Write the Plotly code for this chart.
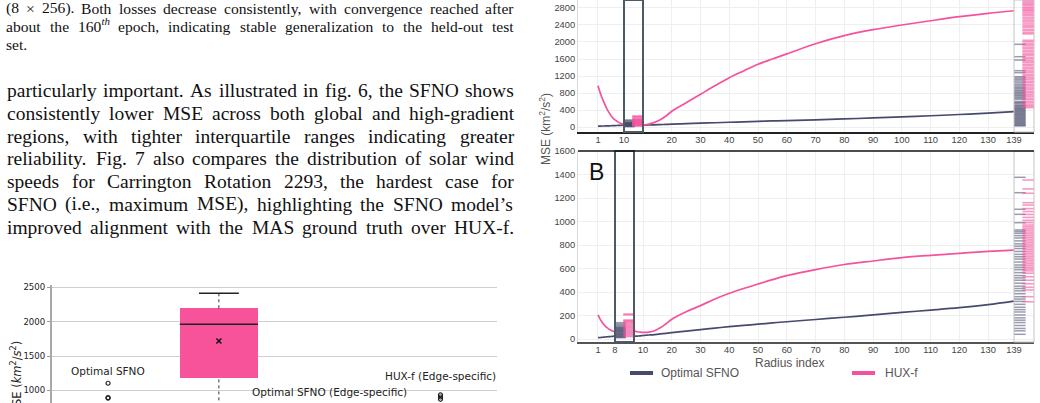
import plotly.graph_objects as go

W, H = 1040, 403

# ---------------- text content ----------------
caption_lines = [
    "(8 × 256). Both losses decrease consistently, with convergence reached after",
    "about the 160^th epoch, indicating stable generalization to the held-out test",
    "set.",
]
body_lines = [
    "particularly important. As illustrated in fig. 6, the SFNO shows",
    "consistently lower MSE across both global and high-gradient",
    "regions, with tighter interquartile ranges indicating greater",
    "reliability. Fig. 7 also compares the distribution of solar wind",
    "speeds for Carrington Rotation 2293, the hardest case for",
    "SFNO (i.e., maximum MSE), highlighting the SFNO model’s",
    "improved alignment with the MAS ground truth over HUX-f.",
]

# ---------------- box plot (bottom left) ----------------
box_categories = ["Optimal SFNO", "HUX-f", "Optimal SFNO (Edge-specific)", "HUX-f (Edge-specific)"]
box_label_y = [1288, 2596, 974, 1215]
hux_q1, hux_median, hux_q3, hux_mean = 1177, 1962, 2195, 1720
hux_whisker_hi, hux_whisker_lo = 2413, 420
sfno_outliers = [1105, 896, 889]
hux_edge_outliers = [935, 905, 872]
box_ticks = [1000, 1500, 2000, 2500]

# ---------------- MSE vs radius index (right) ----------------
radius_idx = [1, 2, 3, 4, 5, 6, 7, 8, 9, 10, 11, 12, 14, 16, 18, 20, 25, 30, 35, 40,
              45, 50, 55, 60, 70, 80, 90, 100, 110, 120, 130, 139]
top_sfno = [20, 22, 24, 26, 28, 31, 34, 37, 40, 43, 45, 47, 51, 56, 61, 66, 78, 90, 100, 112,
            122, 133, 142, 151, 170, 190, 214, 240, 265, 294, 328, 362]
top_hux = [970, 760, 590, 440, 320, 225, 160, 115, 80, 55, 50, 68, 110, 170, 260, 370, 570, 770, 970, 1160,
           1320, 1475, 1600, 1720, 1960, 2150, 2290, 2400, 2500, 2595, 2675, 2735]
bot_sfno = [11, 13, 15, 17, 19, 21, 23, 25, 27, 30, 32, 34, 38, 43, 48, 54, 67, 80, 93, 105,
            116, 126, 137, 147, 166, 185, 205, 226, 246, 267, 293, 323]
bot_hux = [205, 165, 135, 110, 92, 78, 68, 62, 59, 57, 57, 59, 70, 95, 130, 168, 232, 284, 340, 389,
           430, 468, 505, 539, 591, 634, 664, 692, 712, 729, 745, 757]

top_ticks_a = [1, 10]
top_ticks_b = [20, 30, 40, 50, 60, 70, 80, 90, 100, 110, 120, 130, 139]
bot_ticks_a = [1, 8]
bot_ticks_b = [10, 20, 30, 40, 50, 60, 70, 80, 90, 100, 110, 120, 130, 139]

# per-sample MSE at the highlighted radius (box) and at the outer radius 139 (strip)
top_box_sfno = [165, 150, 125, 110, 100, 95, 88, 80, 75, 70, 62, 55, 50, 45, 40, 35, 30, 25, 20, 15, 10]
top_box_hux = [260, 245, 230, 200, 185, 175, 160, 150, 140, 130, 120, 110, 100, 90, 80, 70, 60, 50, 40, 30, 25]
bot_box_sfno = [139, 128, 118, 108, 100, 95, 90, 85, 80, 75, 70, 65, 60, 55, 50, 45, 40, 35, 30, 25, 20, 15, 11]
bot_box_hux = [213, 205, 162, 155, 148, 140, 130, 120, 110, 100, 90, 80, 70, 60, 50, 40, 30, 20]
top_strip_sfno = [1946, 1654, 1576, 1325, 1278, 1184, 1150, 1115, 1080, 1040, 1000, 965, 930, 905, 870, 845,
                  815, 790, 760, 735, 705, 680, 650, 600, 575, 560, 525, 500, 485, 455, 440, 420, 400, 380,
                  360, 340, 318, 300, 280, 262, 240, 220, 200, 180, 160, 140, 120, 100, 80, 60, 40, 25]
top_strip_hux = [2985, 2955, 2920, 2890, 2860, 2820, 2790, 2760, 2735, 2700, 2660, 2630, 2585, 2545, 2505,
                 2470, 2425, 2380, 2350, 2300, 2265, 2220, 2190, 2040, 2005, 1960, 1925, 1880, 1845, 1800,
                 1765, 1720, 1690, 1640, 1605, 1560, 1525, 1480, 1445, 1400, 1365, 1320, 1285, 1240, 1205,
                 1160, 1125, 1080, 1045, 1000, 965, 920, 885, 840, 805, 760, 725, 680, 645, 600, 565, 520,
                 490, 455]
bot_strip_sfno = [1376, 1245, 1104, 1061, 990, 928, 915, 900, 880, 860, 835, 810, 790, 770, 745, 720, 700,
                  680, 655, 630, 610, 590, 565, 540, 520, 500, 475, 450, 430, 410, 385, 360, 340, 320, 295,
                  270, 250, 230, 205, 180, 160, 140, 115, 90, 70, 40]
bot_strip_hux = [1353, 1277, 1240, 1160, 1140, 1110, 1085, 1060, 1035, 1010, 990, 970, 955, 940, 925, 910,
                 895, 880, 865, 850, 835, 820, 805, 790, 775, 760, 745, 730, 715, 700, 685, 670, 655, 640,
                 625, 610, 595, 580, 560, 530, 500, 470, 440, 417, 360, 317]

# ---------------- styles ----------------
DARK = "#474b6b"
PINK = "#f5529c"
SERIF = "Liberation Serif, Times New Roman, serif"
SANS = "Liberation Sans, Arial, sans-serif"
DJV = "DejaVu Sans, sans-serif"


def X(p):
    return p / W


def Y(p):
    return 1 - p / H


TNR = {' ': 250, 'a': 444, 'b': 500, 'c': 444, 'd': 500, 'e': 444, 'f': 333, 'g': 500, 'h': 500, 'i': 278,
       'j': 278, 'k': 500, 'l': 278, 'm': 778, 'n': 500, 'o': 500, 'p': 500, 'q': 500, 'r': 333, 's': 389,
       't': 278, 'u': 500, 'v': 500, 'w': 722, 'x': 500, 'y': 500, 'z': 444,
       'A': 722, 'B': 667, 'C': 667, 'D': 722, 'E': 611, 'F': 556, 'G': 722, 'H': 722, 'I': 333, 'J': 389,
       'K': 722, 'L': 611, 'M': 889, 'N': 722, 'O': 722, 'P': 556, 'Q': 722, 'R': 667, 'S': 556, 'T': 611,
       'U': 722, 'V': 722, 'W': 944, 'X': 722, 'Y': 722, 'Z': 611,
       '.': 250, ',': 250, '(': 333, ')': 333, '-': 333, '’': 333, "'": 180, '×': 564, ':': 278, ';': 278}


def word_info(word, fs):
    if '^' in word:
        base, sup = word.split('^')
        w = sum(TNR.get(c, 500) for c in base) + 0.7 * sum(TNR.get(c, 500) for c in sup)
        return base + "<sup><i>" + sup + "</i></sup>", w * fs / 1000
    return word, sum(TNR.get(c, 500) for c in word) * fs / 1000


annotations = []


def add_text_lines(lines, fs, x0, x1, baselines, justify_last):
    for k, (line, base) in enumerate(zip(lines, baselines)):
        words = line.split(' ')
        infos = [word_info(w, fs) for w in words]
        total = sum(w for _, w in infos)
        justified = (k < len(lines) - 1) or justify_last
        gap = (x1 - x0 - total) / (len(words) - 1) if (justified and len(words) > 1) else 0.25 * fs
        x = x0
        for html, w in infos:
            annotations.append(dict(text=html, x=X(x), y=Y(base + 0.216 * fs), xref='paper', yref='paper',
                                    xanchor='left', yanchor='bottom', showarrow=False, borderpad=0,
                                    font=dict(family=SERIF, size=fs, color='#111')))
            x += w + gap


CAP_FS, BODY_FS = 15.6, 19.5
add_text_lines(caption_lines, CAP_FS, 5, 513, [15, 33, 50.5], False)
add_text_lines(body_lines, BODY_FS, 6, 513, [97.5 + 22.9 * i for i in range(7)], True)

fig = go.Figure()

# ---------- box plot traces ----------
fig.add_trace(go.Scatter(x=[1, 1], y=[hux_q3, hux_whisker_hi], mode='lines', xaxis='x', yaxis='y',
                         line=dict(color='#333', width=1, dash='dot'), hoverinfo='skip'))
fig.add_trace(go.Scatter(x=[1, 1], y=[hux_whisker_lo, hux_q1], mode='lines', xaxis='x', yaxis='y',
                         line=dict(color='#333', width=1, dash='dot'), hoverinfo='skip'))
fig.add_trace(go.Bar(x=[1], y=[hux_q3 - hux_q1], base=[hux_q1], width=[0.706], xaxis='x', yaxis='y',
                     marker=dict(color='#f7539b', line=dict(width=0))))
fig.add_trace(go.Scatter(x=[1 - 0.18, 1 + 0.18], y=[hux_whisker_hi, hux_whisker_hi], mode='lines',
                         xaxis='x', yaxis='y', line=dict(color='#222', width=1.3)))
fig.add_trace(go.Scatter(x=[1 - 0.353, 1 + 0.353], y=[hux_median, hux_median], mode='lines',
                         xaxis='x', yaxis='y', line=dict(color='#222', width=1.5)))
fig.add_trace(go.Scatter(x=[1], y=[hux_mean], mode='markers', xaxis='x', yaxis='y',
                         marker=dict(symbol='x-thin', size=5, line=dict(color='#111', width=1.5))))
fig.add_trace(go.Scatter(x=[0] * len(sfno_outliers) + [3] * len(hux_edge_outliers),
                         y=sfno_outliers + hux_edge_outliers, mode='markers', xaxis='x', yaxis='y',
                         marker=dict(symbol='circle-open', size=4, color='#222', line=dict(width=1.2))))
for i, (lab, ly) in enumerate(zip(box_categories, box_label_y)):
    annotations.append(dict(text=lab, x=i, y=ly, xref='x', yref='y', showarrow=False,
                            xanchor='center', yanchor='middle',
                            font=dict(family=DJV, size=10.5, color='#222')))
annotations.append(dict(text="MSE (<i>km</i><sup>2</sup>/<i>s</i><sup>2</sup>)", x=X(16), y=Y(379),
                        xref='paper', yref='paper', textangle=-90, showarrow=False,
                        xanchor='center', yanchor='middle',
                        font=dict(family=DJV, size=11.5, color='#222')))


# ---------- right panels ----------
def add_curves(xa_a, xa_b, ya, sfno, hux):
    for xa in (xa_a, xa_b):
        fig.add_trace(go.Scatter(x=radius_idx, y=sfno, mode='lines', xaxis=xa, yaxis=ya,
                                 line=dict(color=DARK, width=1.7, shape='spline')))
        fig.add_trace(go.Scatter(x=radius_idx, y=hux, mode='lines', xaxis=xa, yaxis=ya,
                                 line=dict(color=PINK, width=1.7, shape='spline')))


def add_rug(xa, ya, sfno_vals, hux_vals, size):
    fig.add_trace(go.Scatter(x=[0.5] * len(sfno_vals), y=sfno_vals, mode='markers', xaxis=xa, yaxis=ya,
                             marker=dict(symbol='line-ew', size=size,
                                         line=dict(color='rgba(71,75,107,0.55)', width=1.5))))
    fig.add_trace(go.Scatter(x=[1.5] * len(hux_vals), y=hux_vals, mode='markers', xaxis=xa, yaxis=ya,
                             marker=dict(symbol='line-ew', size=size,
                                         line=dict(color='rgba(245,82,156,0.6)', width=1.6))))


add_curves('x2', 'x4', 'y2', top_sfno, top_hux)
add_rug('x3', 'y2', top_box_sfno, top_box_hux, 8.5)
add_rug('x5', 'y2', top_strip_sfno, top_strip_hux, 9.5)
add_curves('x6', 'x8', 'y3', bot_sfno, bot_hux)
add_rug('x7', 'y3', bot_box_sfno, bot_box_hux, 8.5)
add_rug('x9', 'y3', bot_strip_sfno, bot_strip_hux, 9.5)

TICKF = dict(family=SANS, size=9.3, color='#444')
GRID = '#efefef'


def xseg(d0, d1, rng, anchor, ticks=None, linecolor='#222'):
    a = dict(domain=[X(d0), X(d1)], range=rng, anchor=anchor, zeroline=False, fixedrange=True,
             automargin=False, showline=True, linecolor=linecolor, linewidth=1.5, ticks='',
             tickfont=TICKF)
    if ticks:
        a.update(tickmode='array', tickvals=ticks, showgrid=True, gridcolor=GRID, gridwidth=1,
                 ticklabelstandoff=-2)
    else:
        a.update(showgrid=False, showticklabels=False)
    return a


layout = dict(
    width=W, height=H, autosize=False,
    margin=dict(l=0, r=0, t=0, b=0, pad=0, autoexpand=False),
    paper_bgcolor='white', plot_bgcolor='white',
    showlegend=False, bargap=0,
    xaxis=dict(domain=[X(52), X(497)], range=[-0.506, 3.51], anchor='y', showgrid=False,
               showticklabels=False, zeroline=False, showline=False, fixedrange=True, automargin=False),
    yaxis=dict(domain=[0, Y(285)], range=[818, 2533], anchor='x', tickmode='array', tickvals=box_ticks,
               showgrid=True, gridcolor='#cfcfcf', gridwidth=1, showline=True, linecolor='#a8a8a8',
               linewidth=2, ticks='outside', ticklen=3, tickcolor='#999', zeroline=False,
               tickfont=dict(family=DJV, size=8.6, color='#222'), fixedrange=True, automargin=False),
    # top panel
    xaxis2=xseg(578, 624, [-5.92, 10.02], 'y2', top_ticks_a),
    xaxis3=xseg(624, 643, [0, 2], 'y2'),
    xaxis4=xseg(643, 1014, [10, 139], 'y2', top_ticks_b),
    xaxis5=xseg(1014, 1034, [0, 2], 'y2'),
    yaxis2=dict(domain=[Y(132), 1], range=[-117.6, 2988], anchor='x2', dtick=400, tick0=0,
                showgrid=True, gridcolor=GRID, showline=True, linecolor='#d8d8d8', linewidth=1,
                zeroline=False, ticks='', tickfont=TICKF, fixedrange=True, automargin=False),
    # bottom panel
    xaxis6=xseg(578, 615, [-7.24, 8.02], 'y3', bot_ticks_a, '#555'),
    xaxis7=xseg(615, 634, [0, 2], 'y3', None, '#555'),
    xaxis8=xseg(634, 1014, [6.87, 139], 'y3', bot_ticks_b, '#555'),
    xaxis9=xseg(1014, 1034, [0, 2], 'y3', None, '#555'),
    yaxis3=dict(domain=[Y(342), Y(151)], range=[-25.5, 1600], anchor='x6', dtick=200, tick0=0,
                showgrid=True, gridcolor=GRID, showline=True, linecolor='#d8d8d8', linewidth=1,
                zeroline=False, ticks='', tickfont=TICKF, fixedrange=True, automargin=False),
)

shapes = [
    dict(type='rect', xref='x3 domain', yref='y2 domain', x0=0, x1=1, y0=0, y1=1,
         line=dict(color='#4b5b66', width=2)),
    dict(type='rect', xref='x7 domain', yref='y3 domain', x0=0, x1=1, y0=0, y1=1,
         line=dict(color='#4b5b66', width=2)),
    dict(type='rect', xref='x5 domain', yref='y2 domain', x0=0, x1=1, y0=0, y1=1,
         line=dict(color='#c4c4c4', width=1)),
    dict(type='rect', xref='x9 domain', yref='y3 domain', x0=0, x1=1, y0=0, y1=1,
         line=dict(color='#c4c4c4', width=1)),
    dict(type='line', xref='paper', yref='paper', x0=X(578), x1=X(1034), y0=Y(151), y1=Y(151),
         line=dict(color='#111', width=1.5)),
    # legend samples
    dict(type='line', xref='paper', yref='paper', x0=X(630), x1=X(653), y0=Y(373), y1=Y(373),
         line=dict(color=DARK, width=4)),
    dict(type='line', xref='paper', yref='paper', x0=X(852), x1=X(875), y0=Y(373), y1=Y(373),
         line=dict(color=PINK, width=4)),
]

annotations += [
    dict(text="MSE (km<sup>2</sup>/s<sup>2</sup>)", x=X(545), y=Y(129), xref='paper', yref='paper',
         textangle=-90, showarrow=False, xanchor='center', yanchor='middle',
         font=dict(family=SANS, size=12, color='#555')),
    dict(text="B", x=X(596.5), y=Y(172), xref='paper', yref='paper', showarrow=False,
         xanchor='center', yanchor='middle', font=dict(family=SANS, size=23, color='#111')),
    dict(text="Radius index", x=X(789), y=Y(363), xref='paper', yref='paper', showarrow=False,
         xanchor='center', yanchor='middle', font=dict(family=SANS, size=12, color='#555')),
    dict(text="Optimal SFNO", x=X(659), y=Y(373), xref='paper', yref='paper', xanchor='left',
         yanchor='middle', showarrow=False, font=dict(family=SANS, size=12, color='#555')),
    dict(text="HUX-f", x=X(883), y=Y(373), xref='paper', yref='paper', xanchor='left',
         yanchor='middle', showarrow=False, font=dict(family=SANS, size=12, color='#555')),
]

layout['shapes'] = shapes
layout['annotations'] = annotations
fig.update_layout(**layout)
fig.write_html("out.html")
